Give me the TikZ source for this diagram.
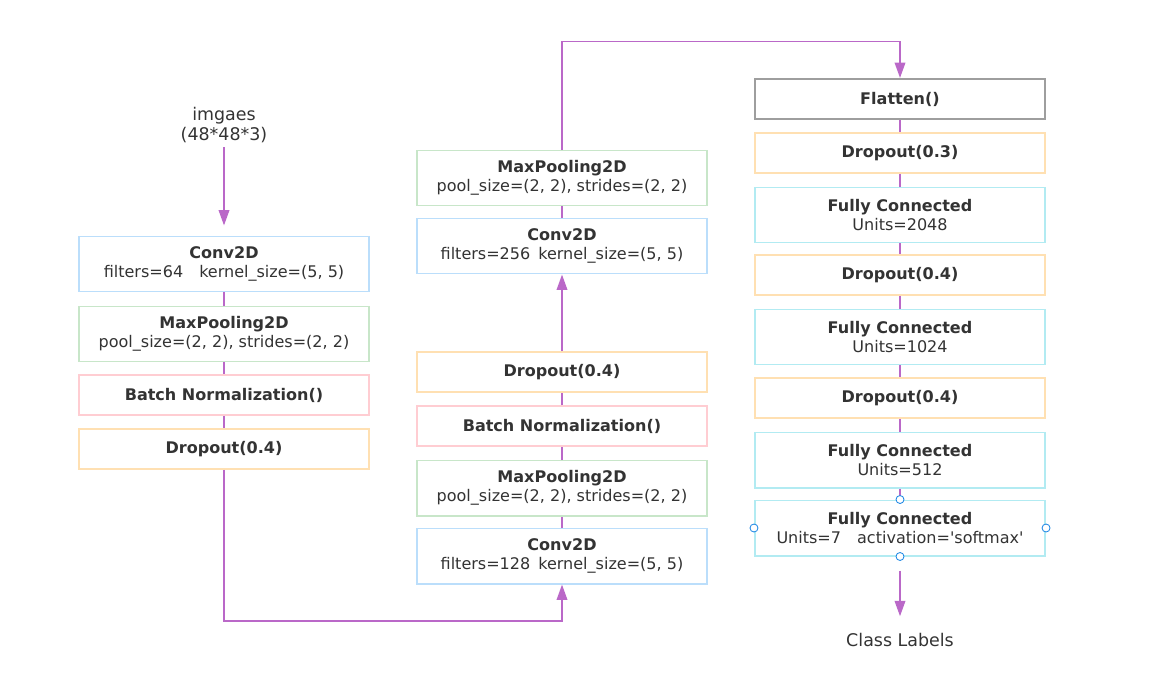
\documentclass[tikz,border=0pt]{standalone}
\usepackage{fontspec}
\newfontfamily\mainsans{DejaVu Sans}
\usetikzlibrary{arrows.meta}

\begin{document}
\begin{tikzpicture}[x=0.025cm, y=-0.025cm,
  layer/.style={draw, line width=1.4pt, fill=white, text=TextGray, align=center,
    minimum width=7.25cm, minimum height=1cm, inner sep=2pt,
    font=\mainsans\fontsize{11.4}{13.6}\selectfont},
  tall/.style={minimum height=1.375cm},
  convbox/.style={layer, tall, draw=LayerBlue},
  poolbox/.style={layer, tall, draw=LayerGreen},
  normbox/.style={layer, draw=LayerPink},
  dropbox/.style={layer, draw=LayerOrange},
  densebox/.style={layer, tall, draw=LayerCyan},
  flatbox/.style={layer, draw=LayerGray},
  txt/.style={text=TextGray, align=center, font=\mainsans\fontsize{12.4}{13.6}\selectfont},
  link/.style={draw=LinkPurple, line width=1.4pt},
  flow/.style={link, -{Triangle[length=11pt, width=7.5pt]}},
  handle/.style={draw=HandleBlue, fill=white, line width=0.6pt}]
\definecolor{LayerBlue}{HTML}{BBDEFB};
\definecolor{LayerGreen}{HTML}{C8E6C9};
\definecolor{LayerPink}{HTML}{FFCDD2};
\definecolor{LayerOrange}{HTML}{FFE0B2};
\definecolor{LayerCyan}{HTML}{B2EBF2};
\definecolor{LayerGray}{HTML}{9E9E9E};
\definecolor{LinkPurple}{HTML}{BA68C8};
\definecolor{TextGray}{HTML}{333333};
\definecolor{HandleBlue}{HTML}{1E88E5};

\useasboundingbox (0,0) rectangle (1149,678);

% block 1
\node[txt] (img) at (224,125) {imgaes\\(48*48*3)};
\node[convbox] (conv1) at (224,264) {\textbf{Conv2D}\\filters=64\quad kernel\_size=(5, 5)};
\node[poolbox] (pool1) at (224,334) {\textbf{MaxPooling2D}\\pool\_size=(2, 2), strides=(2, 2)};
\node[normbox] (norm1) at (224,395) {\textbf{Batch Normalization()}};
\node[dropbox] (drop1) at (224,449) {\textbf{Dropout(0.4)}};

% block 2
\node[convbox] (conv2) at (562,556) {\textbf{Conv2D}\\filters=128\enspace kernel\_size=(5, 5)};
\node[poolbox] (pool2) at (562,488) {\textbf{MaxPooling2D}\\pool\_size=(2, 2), strides=(2, 2)};
\node[normbox] (norm2) at (562,426) {\textbf{Batch Normalization()}};
\node[dropbox] (drop2) at (562,372) {\textbf{Dropout(0.4)}};

% block 3
\node[convbox] (conv3) at (562,246) {\textbf{Conv2D}\\filters=256\enspace kernel\_size=(5, 5)};
\node[poolbox] (pool3) at (562,178) {\textbf{MaxPooling2D}\\pool\_size=(2, 2), strides=(2, 2)};

% dense part
\node[flatbox] (flat) at (900,99) {\textbf{Flatten()}};
\node[dropbox] (drop3) at (900,153) {\textbf{Dropout(0.3)}};
\node[densebox] (fc1) at (900,215) {\textbf{Fully Connected}\\Units=2048};
\node[dropbox] (drop4) at (900,275) {\textbf{Dropout(0.4)}};
\node[densebox] (fc2) at (900,337) {\textbf{Fully Connected}\\Units=1024};
\node[dropbox] (drop5) at (900,398) {\textbf{Dropout(0.4)}};
\node[densebox] (fc3) at (900,460) {\textbf{Fully Connected}\\Units=512};
\node[densebox] (fc4) at (900,528) {\textbf{Fully Connected}\\Units=7\quad activation='softmax'};
\node[txt] (out) at (900,640) {Class Labels};

% links
\foreach \a/\b in {conv1/pool1, pool1/norm1, norm1/drop1,
                   conv2/pool2, pool2/norm2, norm2/drop2, conv3/pool3,
                   flat/drop3, drop3/fc1, fc1/drop4, drop4/fc2,
                   fc2/drop5, drop5/fc3, fc3/fc4}
    \draw[link] (\a) -- (\b);

% arrows
\draw[flow, shorten >=0.25cm] (img) -- (conv1);
\draw[flow] (drop1.south) -- ++(0,151) -| (conv2.south);
\draw[flow] (drop2.north) -- (conv3.south);
\draw[flow] (pool3.north) -- ++(0,-108) -| (flat.north);
\draw[flow, shorten <=0.35cm, shorten >=0.3cm] (fc4) -- (out);

% selection handles
\foreach \p in {north,south,west,east}
    \draw[handle] (fc4.\p) circle (0.1cm);
\end{tikzpicture}
\end{document}
